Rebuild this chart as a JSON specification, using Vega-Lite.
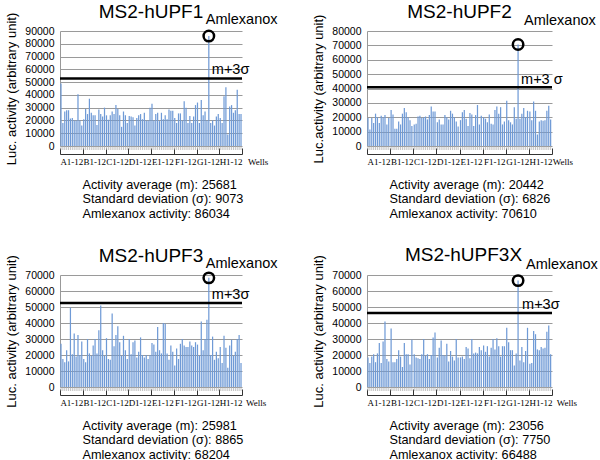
{
"$schema": "https://vega.github.io/schema/vega-lite/v6.json",
"padding": {"left": 5, "top": 2, "right": 0, "bottom": 0},
"datasets": {
"p1": [
{"g":"A1-12","w":1,"v":49000},{"g":"A1-12","w":2,"v":18000},{"g":"A1-12","w":3,"v":27000},{"g":"A1-12","w":4,"v":28000},{"g":"A1-12","w":5,"v":28000},{"g":"A1-12","w":6,"v":21500},{"g":"A1-12","w":7,"v":22000},{"g":"A1-12","w":8,"v":20000},{"g":"A1-12","w":9,"v":20000},{"g":"A1-12","w":10,"v":40500},{"g":"A1-12","w":11,"v":20000},{"g":"A1-12","w":12,"v":16000},
{"g":"B1-12","w":1,"v":21000},{"g":"B1-12","w":2,"v":29000},{"g":"B1-12","w":3,"v":25000},{"g":"B1-12","w":4,"v":37000},{"g":"B1-12","w":5,"v":26000},{"g":"B1-12","w":6,"v":24000},{"g":"B1-12","w":7,"v":24000},{"g":"B1-12","w":8,"v":16500},{"g":"B1-12","w":9,"v":28500},{"g":"B1-12","w":10,"v":25000},{"g":"B1-12","w":11,"v":23000},{"g":"B1-12","w":12,"v":30000},
{"g":"C1-12","w":1,"v":24000},{"g":"C1-12","w":2,"v":20500},{"g":"C1-12","w":3,"v":24000},{"g":"C1-12","w":4,"v":27000},{"g":"C1-12","w":5,"v":25000},{"g":"C1-12","w":6,"v":32000},{"g":"C1-12","w":7,"v":29000},{"g":"C1-12","w":8,"v":24000},{"g":"C1-12","w":9,"v":15000},{"g":"C1-12","w":10,"v":27000},{"g":"C1-12","w":11,"v":24000},{"g":"C1-12","w":12,"v":18000},
{"g":"D1-12","w":1,"v":23500},{"g":"D1-12","w":2,"v":23000},{"g":"D1-12","w":3,"v":22500},{"g":"D1-12","w":4,"v":16000},{"g":"D1-12","w":5,"v":22000},{"g":"D1-12","w":6,"v":24000},{"g":"D1-12","w":7,"v":25000},{"g":"D1-12","w":8,"v":21000},{"g":"D1-12","w":9,"v":26000},{"g":"D1-12","w":10,"v":20000},{"g":"D1-12","w":11,"v":20000},{"g":"D1-12","w":12,"v":30000},
{"g":"E1-12","w":1,"v":33000},{"g":"E1-12","w":2,"v":20000},{"g":"E1-12","w":3,"v":25000},{"g":"E1-12","w":4,"v":26000},{"g":"E1-12","w":5,"v":19500},{"g":"E1-12","w":6,"v":26000},{"g":"E1-12","w":7,"v":21000},{"g":"E1-12","w":8,"v":24000},{"g":"E1-12","w":9,"v":21000},{"g":"E1-12","w":10,"v":28500},{"g":"E1-12","w":11,"v":27500},{"g":"E1-12","w":12,"v":27500},
{"g":"F1-12","w":1,"v":22000},{"g":"F1-12","w":2,"v":18000},{"g":"F1-12","w":3,"v":25500},{"g":"F1-12","w":4,"v":25500},{"g":"F1-12","w":5,"v":20000},{"g":"F1-12","w":6,"v":35000},{"g":"F1-12","w":7,"v":30000},{"g":"F1-12","w":8,"v":18000},{"g":"F1-12","w":9,"v":23500},{"g":"F1-12","w":10,"v":18000},{"g":"F1-12","w":11,"v":23000},{"g":"F1-12","w":12,"v":32000},
{"g":"G1-12","w":1,"v":34000},{"g":"G1-12","w":2,"v":18000},{"g":"G1-12","w":3,"v":36000},{"g":"G1-12","w":4,"v":24000},{"g":"G1-12","w":5,"v":27000},{"g":"G1-12","w":6,"v":20000},{"g":"G1-12","w":7,"v":86034},{"g":"G1-12","w":8,"v":18000},{"g":"G1-12","w":9,"v":20000},{"g":"G1-12","w":10,"v":16000},{"g":"G1-12","w":11,"v":23000},{"g":"G1-12","w":12,"v":25000},
{"g":"H1-12","w":1,"v":22000},{"g":"H1-12","w":2,"v":18000},{"g":"H1-12","w":3,"v":39000},{"g":"H1-12","w":4,"v":46000},{"g":"H1-12","w":5,"v":9000},{"g":"H1-12","w":6,"v":31000},{"g":"H1-12","w":7,"v":32000},{"g":"H1-12","w":8,"v":26000},{"g":"H1-12","w":9,"v":28000},{"g":"H1-12","w":10,"v":44000},{"g":"H1-12","w":11,"v":25000},{"g":"H1-12","w":12,"v":25000}
],
"p2": [
{"g":"A1-12","w":1,"v":19500},{"g":"A1-12","w":2,"v":11500},{"g":"A1-12","w":3,"v":19500},{"g":"A1-12","w":4,"v":16000},{"g":"A1-12","w":5,"v":22500},{"g":"A1-12","w":6,"v":20000},{"g":"A1-12","w":7,"v":16000},{"g":"A1-12","w":8,"v":21000},{"g":"A1-12","w":9,"v":20000},{"g":"A1-12","w":10,"v":21500},{"g":"A1-12","w":11,"v":15000},{"g":"A1-12","w":12,"v":19500},
{"g":"B1-12","w":1,"v":25000},{"g":"B1-12","w":2,"v":22000},{"g":"B1-12","w":3,"v":12000},{"g":"B1-12","w":4,"v":12000},{"g":"B1-12","w":5,"v":17000},{"g":"B1-12","w":6,"v":15000},{"g":"B1-12","w":7,"v":22500},{"g":"B1-12","w":8,"v":26500},{"g":"B1-12","w":9,"v":23500},{"g":"B1-12","w":10,"v":20000},{"g":"B1-12","w":11,"v":18000},{"g":"B1-12","w":12,"v":14000},
{"g":"C1-12","w":1,"v":15000},{"g":"C1-12","w":2,"v":15500},{"g":"C1-12","w":3,"v":20500},{"g":"C1-12","w":4,"v":21000},{"g":"C1-12","w":5,"v":19500},{"g":"C1-12","w":6,"v":20000},{"g":"C1-12","w":7,"v":20500},{"g":"C1-12","w":8,"v":18500},{"g":"C1-12","w":9,"v":21500},{"g":"C1-12","w":10,"v":27500},{"g":"C1-12","w":11,"v":24000},{"g":"C1-12","w":12,"v":24000},
{"g":"D1-12","w":1,"v":16500},{"g":"D1-12","w":2,"v":18500},{"g":"D1-12","w":3,"v":15000},{"g":"D1-12","w":4,"v":15000},{"g":"D1-12","w":5,"v":21500},{"g":"D1-12","w":6,"v":20000},{"g":"D1-12","w":7,"v":18500},{"g":"D1-12","w":8,"v":24500},{"g":"D1-12","w":9,"v":22500},{"g":"D1-12","w":10,"v":20000},{"g":"D1-12","w":11,"v":17000},{"g":"D1-12","w":12,"v":13500},
{"g":"E1-12","w":1,"v":18000},{"g":"E1-12","w":2,"v":23500},{"g":"E1-12","w":3,"v":25000},{"g":"E1-12","w":4,"v":19000},{"g":"E1-12","w":5,"v":14000},{"g":"E1-12","w":6,"v":23000},{"g":"E1-12","w":7,"v":22000},{"g":"E1-12","w":8,"v":14000},{"g":"E1-12","w":9,"v":21500},{"g":"E1-12","w":10,"v":28500},{"g":"E1-12","w":11,"v":15000},{"g":"E1-12","w":12,"v":21000},
{"g":"F1-12","w":1,"v":20000},{"g":"F1-12","w":2,"v":19000},{"g":"F1-12","w":3,"v":16500},{"g":"F1-12","w":4,"v":22000},{"g":"F1-12","w":5,"v":15500},{"g":"F1-12","w":6,"v":15000},{"g":"F1-12","w":7,"v":25000},{"g":"F1-12","w":8,"v":27500},{"g":"F1-12","w":9,"v":22500},{"g":"F1-12","w":10,"v":27000},{"g":"F1-12","w":11,"v":15000},{"g":"F1-12","w":12,"v":17000},
{"g":"G1-12","w":1,"v":31500},{"g":"G1-12","w":2,"v":18000},{"g":"G1-12","w":3,"v":16500},{"g":"G1-12","w":4,"v":15000},{"g":"G1-12","w":5,"v":27000},{"g":"G1-12","w":6,"v":19000},{"g":"G1-12","w":7,"v":70610},{"g":"G1-12","w":8,"v":19000},{"g":"G1-12","w":9,"v":22500},{"g":"G1-12","w":10,"v":26500},{"g":"G1-12","w":11,"v":20000},{"g":"G1-12","w":12,"v":24500},
{"g":"H1-12","w":1,"v":24000},{"g":"H1-12","w":2,"v":18000},{"g":"H1-12","w":3,"v":31000},{"g":"H1-12","w":4,"v":24500},{"g":"H1-12","w":5,"v":8000},{"g":"H1-12","w":6,"v":17000},{"g":"H1-12","w":7,"v":18000},{"g":"H1-12","w":8,"v":17500},{"g":"H1-12","w":9,"v":18000},{"g":"H1-12","w":10,"v":24500},{"g":"H1-12","w":11,"v":28000},{"g":"H1-12","w":12,"v":18500}
],
"p3": [
{"g":"A1-12","w":1,"v":27000},{"g":"A1-12","w":2,"v":17500},{"g":"A1-12","w":3,"v":15500},{"g":"A1-12","w":4,"v":23000},{"g":"A1-12","w":5,"v":16000},{"g":"A1-12","w":6,"v":49500},{"g":"A1-12","w":7,"v":20500},{"g":"A1-12","w":8,"v":33500},{"g":"A1-12","w":9,"v":19000},{"g":"A1-12","w":10,"v":32500},{"g":"A1-12","w":11,"v":20000},{"g":"A1-12","w":12,"v":28500},
{"g":"B1-12","w":1,"v":17500},{"g":"B1-12","w":2,"v":15500},{"g":"B1-12","w":3,"v":30000},{"g":"B1-12","w":4,"v":21000},{"g":"B1-12","w":5,"v":19500},{"g":"B1-12","w":6,"v":26000},{"g":"B1-12","w":7,"v":30000},{"g":"B1-12","w":8,"v":21000},{"g":"B1-12","w":9,"v":35500},{"g":"B1-12","w":10,"v":51000},{"g":"B1-12","w":11,"v":23000},{"g":"B1-12","w":12,"v":19500},
{"g":"C1-12","w":1,"v":30500},{"g":"C1-12","w":2,"v":17500},{"g":"C1-12","w":3,"v":17000},{"g":"C1-12","w":4,"v":46000},{"g":"C1-12","w":5,"v":25500},{"g":"C1-12","w":6,"v":32500},{"g":"C1-12","w":7,"v":38000},{"g":"C1-12","w":8,"v":28000},{"g":"C1-12","w":9,"v":19500},{"g":"C1-12","w":10,"v":32000},{"g":"C1-12","w":11,"v":23000},{"g":"C1-12","w":12,"v":17500},
{"g":"D1-12","w":1,"v":30000},{"g":"D1-12","w":2,"v":20500},{"g":"D1-12","w":3,"v":28000},{"g":"D1-12","w":4,"v":29000},{"g":"D1-12","w":5,"v":18500},{"g":"D1-12","w":6,"v":22000},{"g":"D1-12","w":7,"v":31000},{"g":"D1-12","w":8,"v":20000},{"g":"D1-12","w":9,"v":18500},{"g":"D1-12","w":10,"v":20000},{"g":"D1-12","w":11,"v":17500},{"g":"D1-12","w":12,"v":20000},
{"g":"E1-12","w":1,"v":27500},{"g":"E1-12","w":2,"v":26500},{"g":"E1-12","w":3,"v":22000},{"g":"E1-12","w":4,"v":37500},{"g":"E1-12","w":5,"v":23000},{"g":"E1-12","w":6,"v":21000},{"g":"E1-12","w":7,"v":40000},{"g":"E1-12","w":8,"v":39500},{"g":"E1-12","w":9,"v":21000},{"g":"E1-12","w":10,"v":17000},{"g":"E1-12","w":11,"v":26000},{"g":"E1-12","w":12,"v":22000},
{"g":"F1-12","w":1,"v":13500},{"g":"F1-12","w":2,"v":24000},{"g":"F1-12","w":3,"v":17500},{"g":"F1-12","w":4,"v":27000},{"g":"F1-12","w":5,"v":30000},{"g":"F1-12","w":6,"v":26000},{"g":"F1-12","w":7,"v":25000},{"g":"F1-12","w":8,"v":25000},{"g":"F1-12","w":9,"v":28500},{"g":"F1-12","w":10,"v":26000},{"g":"F1-12","w":11,"v":25000},{"g":"F1-12","w":12,"v":28000},
{"g":"G1-12","w":1,"v":26500},{"g":"G1-12","w":2,"v":19500},{"g":"G1-12","w":3,"v":41000},{"g":"G1-12","w":4,"v":23000},{"g":"G1-12","w":5,"v":30000},{"g":"G1-12","w":6,"v":42000},{"g":"G1-12","w":7,"v":68204},{"g":"G1-12","w":8,"v":20000},{"g":"G1-12","w":9,"v":31500},{"g":"G1-12","w":10,"v":17000},{"g":"G1-12","w":11,"v":22000},{"g":"G1-12","w":12,"v":18000},
{"g":"H1-12","w":1,"v":25000},{"g":"H1-12","w":2,"v":15000},{"g":"H1-12","w":3,"v":32000},{"g":"H1-12","w":4,"v":24500},{"g":"H1-12","w":5,"v":12000},{"g":"H1-12","w":6,"v":26000},{"g":"H1-12","w":7,"v":29500},{"g":"H1-12","w":8,"v":19500},{"g":"H1-12","w":9,"v":22000},{"g":"H1-12","w":10,"v":30000},{"g":"H1-12","w":11,"v":32500},{"g":"H1-12","w":12,"v":15000}
],
"p4": [
{"g":"A1-12","w":1,"v":18500},{"g":"A1-12","w":2,"v":15000},{"g":"A1-12","w":3,"v":19000},{"g":"A1-12","w":4,"v":20500},{"g":"A1-12","w":5,"v":15500},{"g":"A1-12","w":6,"v":21000},{"g":"A1-12","w":7,"v":27500},{"g":"A1-12","w":8,"v":15000},{"g":"A1-12","w":9,"v":28500},{"g":"A1-12","w":10,"v":41000},{"g":"A1-12","w":11,"v":17500},{"g":"A1-12","w":12,"v":16000},
{"g":"B1-12","w":1,"v":36500},{"g":"B1-12","w":2,"v":15500},{"g":"B1-12","w":3,"v":15500},{"g":"B1-12","w":4,"v":17500},{"g":"B1-12","w":5,"v":23000},{"g":"B1-12","w":6,"v":19000},{"g":"B1-12","w":7,"v":12500},{"g":"B1-12","w":8,"v":27500},{"g":"B1-12","w":9,"v":20500},{"g":"B1-12","w":10,"v":20500},{"g":"B1-12","w":11,"v":14000},{"g":"B1-12","w":12,"v":29500},
{"g":"C1-12","w":1,"v":20500},{"g":"C1-12","w":2,"v":18500},{"g":"C1-12","w":3,"v":18000},{"g":"C1-12","w":4,"v":17500},{"g":"C1-12","w":5,"v":20500},{"g":"C1-12","w":6,"v":30000},{"g":"C1-12","w":7,"v":19500},{"g":"C1-12","w":8,"v":20500},{"g":"C1-12","w":9,"v":17500},{"g":"C1-12","w":10,"v":20000},{"g":"C1-12","w":11,"v":31000},{"g":"C1-12","w":12,"v":34000},
{"g":"D1-12","w":1,"v":18500},{"g":"D1-12","w":2,"v":24500},{"g":"D1-12","w":3,"v":29000},{"g":"D1-12","w":4,"v":20000},{"g":"D1-12","w":5,"v":19500},{"g":"D1-12","w":6,"v":27000},{"g":"D1-12","w":7,"v":16000},{"g":"D1-12","w":8,"v":22500},{"g":"D1-12","w":9,"v":19000},{"g":"D1-12","w":10,"v":16500},{"g":"D1-12","w":11,"v":30000},{"g":"D1-12","w":12,"v":18500},
{"g":"E1-12","w":1,"v":18500},{"g":"E1-12","w":2,"v":19000},{"g":"E1-12","w":3,"v":17500},{"g":"E1-12","w":4,"v":25000},{"g":"E1-12","w":5,"v":24000},{"g":"E1-12","w":6,"v":18000},{"g":"E1-12","w":7,"v":30000},{"g":"E1-12","w":8,"v":21000},{"g":"E1-12","w":9,"v":21500},{"g":"E1-12","w":10,"v":21000},{"g":"E1-12","w":11,"v":25000},{"g":"E1-12","w":12,"v":23000},
{"g":"F1-12","w":1,"v":26000},{"g":"F1-12","w":2,"v":22000},{"g":"F1-12","w":3,"v":25500},{"g":"F1-12","w":4,"v":19000},{"g":"F1-12","w":5,"v":24500},{"g":"F1-12","w":6,"v":30000},{"g":"F1-12","w":7,"v":23500},{"g":"F1-12","w":8,"v":30500},{"g":"F1-12","w":9,"v":25500},{"g":"F1-12","w":10,"v":19000},{"g":"F1-12","w":11,"v":25500},{"g":"F1-12","w":12,"v":25500},
{"g":"G1-12","w":1,"v":37000},{"g":"G1-12","w":2,"v":28000},{"g":"G1-12","w":3,"v":23000},{"g":"G1-12","w":4,"v":23000},{"g":"G1-12","w":5,"v":13500},{"g":"G1-12","w":6,"v":21000},{"g":"G1-12","w":7,"v":66488},{"g":"G1-12","w":8,"v":16500},{"g":"G1-12","w":9,"v":25000},{"g":"G1-12","w":10,"v":15500},{"g":"G1-12","w":11,"v":22500},{"g":"G1-12","w":12,"v":37000},
{"g":"H1-12","w":1,"v":14500},{"g":"H1-12","w":2,"v":15000},{"g":"H1-12","w":3,"v":35000},{"g":"H1-12","w":4,"v":33000},{"g":"H1-12","w":5,"v":23500},{"g":"H1-12","w":6,"v":23000},{"g":"H1-12","w":7,"v":25000},{"g":"H1-12","w":8,"v":24000},{"g":"H1-12","w":9,"v":24500},{"g":"H1-12","w":10,"v":34500},{"g":"H1-12","w":11,"v":38500},{"g":"H1-12","w":12,"v":20500}
],
"s1": [{"g":"G1-12","w":7,"m":25681,"sd":9073,"amx":86034,"thr":52900}],
"s2": [{"g":"G1-12","w":7,"m":20442,"sd":6826,"amx":70610,"thr":40920}],
"s3": [{"g":"G1-12","w":7,"m":25981,"sd":8865,"amx":68204,"thr":52576}],
"s4": [{"g":"G1-12","w":7,"m":23056,"sd":7750,"amx":66488,"thr":46306}]
},
"columns": 2,
"align": "each",
"bounds": "flush",
"spacing": {"row": 129, "column": 125},
"concat": [
{
"width": 182, "height": 115,
"title": {"text": "MS2-hUPF1", "offset": -9.5},
"layer": [
{"data": {"name": "p1"}, "mark": {"type": "bar", "color": "#6f9ad6"},
 "encoding": {
  "x": {"field": "g", "type": "nominal", "scale": {"paddingInner": 0, "paddingOuter": 0}, "axis": {"title": ["Activity average (m): 25681", "Standard deviation (σ): 9073", "Amlexanox activity: 86034"]}},
  "xOffset": {"field": "w", "type": "ordinal", "scale": {"paddingInner": 0.35, "paddingOuter": 0.2}},
  "y": {"field": "v", "type": "quantitative", "scale": {"domain": [0, 90000], "nice": false}, "axis": {"title": "Luc. activity (arbitrary unit)"}}}},
{"data": {"name": "p1"}, "mark": {"type": "tick", "color": "#aaaaaa", "orient": "vertical", "size": 4, "thickness": 1, "yOffset": 2},
 "encoding": {"x": {"field": "g", "type": "nominal"}, "xOffset": {"field": "w", "type": "ordinal"}, "y": {"datum": 0, "type": "quantitative"}}},
{"data": {"name": "s1"}, "mark": {"type": "rule", "color": "black", "strokeWidth": 2.5},
 "encoding": {"y": {"field": "thr", "type": "quantitative"}}},
{"data": {"name": "s1"}, "mark": {"type": "point", "shape": "circle", "filled": false, "stroke": "black", "strokeWidth": 2.5, "size": 110, "opacity": 1},
 "encoding": {"x": {"field": "g", "type": "nominal"}, "xOffset": {"field": "w", "type": "ordinal"}, "y": {"field": "amx", "type": "quantitative"}}},
{"data": {"name": "s1"}, "mark": {"type": "text", "text": "Amlexanox", "align": "left", "baseline": "middle", "dx": -3, "dy": -16},
 "encoding": {"x": {"field": "g", "type": "nominal"}, "xOffset": {"field": "w", "type": "ordinal"}, "y": {"field": "amx", "type": "quantitative"}}},
{"data": {"name": "s1"}, "mark": {"type": "text", "text": "m+3σ", "align": "left", "baseline": "middle", "dx": 3, "dy": -8},
 "encoding": {"x": {"field": "g", "type": "nominal"}, "xOffset": {"field": "w", "type": "ordinal"}, "y": {"field": "thr", "type": "quantitative"}}},
{"data": {"name": "p1"}, "transform": [{"filter": "datum.g == 'H1-12' && datum.w == 12"}], "mark": {"type": "text", "text": "Wells", "align": "left", "baseline": "middle", "dx": 7, "dy": 16, "font": "Liberation Serif", "fontSize": 9},
 "encoding": {"x": {"field": "g", "type": "nominal"}, "xOffset": {"field": "w", "type": "ordinal"}, "y": {"datum": 0, "type": "quantitative"}}}
]
},
{
"width": 185, "height": 115,
"title": {"text": "MS2-hUPF2", "offset": -8.5},
"layer": [
{"data": {"name": "p2"}, "mark": {"type": "bar", "color": "#6f9ad6"},
 "encoding": {
  "x": {"field": "g", "type": "nominal", "scale": {"paddingInner": 0, "paddingOuter": 0}, "axis": {"title": ["Activity average (m): 20442", "Standard deviation (σ): 6826", "Amlexanox activity: 70610"]}},
  "xOffset": {"field": "w", "type": "ordinal", "scale": {"paddingInner": 0.35, "paddingOuter": 0.2}},
  "y": {"field": "v", "type": "quantitative", "scale": {"domain": [0, 80000], "nice": false}, "axis": {"title": "Luc.activity (arbitrary unit)"}}}},
{"data": {"name": "p2"}, "mark": {"type": "tick", "color": "#aaaaaa", "orient": "vertical", "size": 4, "thickness": 1, "yOffset": 2},
 "encoding": {"x": {"field": "g", "type": "nominal"}, "xOffset": {"field": "w", "type": "ordinal"}, "y": {"datum": 0, "type": "quantitative"}}},
{"data": {"name": "s2"}, "mark": {"type": "rule", "color": "black", "strokeWidth": 2.5},
 "encoding": {"y": {"field": "thr", "type": "quantitative"}}},
{"data": {"name": "s2"}, "mark": {"type": "point", "shape": "circle", "filled": false, "stroke": "black", "strokeWidth": 2.5, "size": 110, "opacity": 1},
 "encoding": {"x": {"field": "g", "type": "nominal"}, "xOffset": {"field": "w", "type": "ordinal"}, "y": {"field": "amx", "type": "quantitative"}}},
{"data": {"name": "s2"}, "mark": {"type": "text", "text": "Amlexanox", "align": "left", "baseline": "middle", "dx": 6, "dy": -23},
 "encoding": {"x": {"field": "g", "type": "nominal"}, "xOffset": {"field": "w", "type": "ordinal"}, "y": {"field": "amx", "type": "quantitative"}}},
{"data": {"name": "s2"}, "mark": {"type": "text", "text": "m+3 σ", "align": "left", "baseline": "middle", "dx": 3, "dy": -7},
 "encoding": {"x": {"field": "g", "type": "nominal"}, "xOffset": {"field": "w", "type": "ordinal"}, "y": {"field": "thr", "type": "quantitative"}}},
{"data": {"name": "p2"}, "transform": [{"filter": "datum.g == 'H1-12' && datum.w == 12"}], "mark": {"type": "text", "text": "Wells", "align": "left", "baseline": "middle", "dx": 2, "dy": 16, "font": "Liberation Serif", "fontSize": 9},
 "encoding": {"x": {"field": "g", "type": "nominal"}, "xOffset": {"field": "w", "type": "ordinal"}, "y": {"datum": 0, "type": "quantitative"}}}
]
},
{
"width": 182, "height": 112,
"title": {"text": "MS2-hUPF3", "offset": -11.3},
"layer": [
{"data": {"name": "p3"}, "mark": {"type": "bar", "color": "#6f9ad6"},
 "encoding": {
  "x": {"field": "g", "type": "nominal", "scale": {"paddingInner": 0, "paddingOuter": 0}, "axis": {"title": ["Activity average (m): 25981", "Standard deviation (σ): 8865", "Amlexanox activity: 68204"]}},
  "xOffset": {"field": "w", "type": "ordinal", "scale": {"paddingInner": 0.35, "paddingOuter": 0.2}},
  "y": {"field": "v", "type": "quantitative", "scale": {"domain": [0, 70000], "nice": false}, "axis": {"title": "Luc. activity (arbitrary unit)"}}}},
{"data": {"name": "p3"}, "mark": {"type": "tick", "color": "#aaaaaa", "orient": "vertical", "size": 4, "thickness": 1, "yOffset": 2},
 "encoding": {"x": {"field": "g", "type": "nominal"}, "xOffset": {"field": "w", "type": "ordinal"}, "y": {"datum": 0, "type": "quantitative"}}},
{"data": {"name": "s3"}, "mark": {"type": "rule", "color": "black", "strokeWidth": 2.5},
 "encoding": {"y": {"field": "thr", "type": "quantitative"}}},
{"data": {"name": "s3"}, "mark": {"type": "point", "shape": "circle", "filled": false, "stroke": "black", "strokeWidth": 2.5, "size": 110, "opacity": 1},
 "encoding": {"x": {"field": "g", "type": "nominal"}, "xOffset": {"field": "w", "type": "ordinal"}, "y": {"field": "amx", "type": "quantitative"}}},
{"data": {"name": "s3"}, "mark": {"type": "text", "text": "Amlexanox", "align": "left", "baseline": "middle", "dx": -3, "dy": -14},
 "encoding": {"x": {"field": "g", "type": "nominal"}, "xOffset": {"field": "w", "type": "ordinal"}, "y": {"field": "amx", "type": "quantitative"}}},
{"data": {"name": "s3"}, "mark": {"type": "text", "text": "m+3σ", "align": "left", "baseline": "middle", "dx": 3, "dy": -8},
 "encoding": {"x": {"field": "g", "type": "nominal"}, "xOffset": {"field": "w", "type": "ordinal"}, "y": {"field": "thr", "type": "quantitative"}}},
{"data": {"name": "p3"}, "transform": [{"filter": "datum.g == 'H1-12' && datum.w == 12"}], "mark": {"type": "text", "text": "Wells", "align": "left", "baseline": "middle", "dx": 5, "dy": 16, "font": "Liberation Serif", "fontSize": 9},
 "encoding": {"x": {"field": "g", "type": "nominal"}, "xOffset": {"field": "w", "type": "ordinal"}, "y": {"datum": 0, "type": "quantitative"}}}
]
},
{
"width": 185, "height": 112,
"title": {"text": "MS2-hUPF3X", "offset": -10.6, "dx": 4},
"layer": [
{"data": {"name": "p4"}, "mark": {"type": "bar", "color": "#6f9ad6"},
 "encoding": {
  "x": {"field": "g", "type": "nominal", "scale": {"paddingInner": 0, "paddingOuter": 0}, "axis": {"title": ["Activity average (m): 23056", "Standard deviation (σ): 7750", "Amlexanox activity: 66488"]}},
  "xOffset": {"field": "w", "type": "ordinal", "scale": {"paddingInner": 0.35, "paddingOuter": 0.2}},
  "y": {"field": "v", "type": "quantitative", "scale": {"domain": [0, 70000], "nice": false}, "axis": {"title": "Luc. activity (arbitrary unit)"}}}},
{"data": {"name": "p4"}, "mark": {"type": "tick", "color": "#aaaaaa", "orient": "vertical", "size": 4, "thickness": 1, "yOffset": 2},
 "encoding": {"x": {"field": "g", "type": "nominal"}, "xOffset": {"field": "w", "type": "ordinal"}, "y": {"datum": 0, "type": "quantitative"}}},
{"data": {"name": "s4"}, "mark": {"type": "rule", "color": "black", "strokeWidth": 2.5},
 "encoding": {"y": {"field": "thr", "type": "quantitative"}}},
{"data": {"name": "s4"}, "mark": {"type": "point", "shape": "circle", "filled": false, "stroke": "black", "strokeWidth": 2.5, "size": 110, "opacity": 1},
 "encoding": {"x": {"field": "g", "type": "nominal"}, "xOffset": {"field": "w", "type": "ordinal"}, "y": {"field": "amx", "type": "quantitative"}}},
{"data": {"name": "s4"}, "mark": {"type": "text", "text": "Amlexanox", "align": "left", "baseline": "middle", "dx": 8, "dy": -16},
 "encoding": {"x": {"field": "g", "type": "nominal"}, "xOffset": {"field": "w", "type": "ordinal"}, "y": {"field": "amx", "type": "quantitative"}}},
{"data": {"name": "s4"}, "mark": {"type": "text", "text": "m+3σ", "align": "left", "baseline": "middle", "dx": 4, "dy": -8},
 "encoding": {"x": {"field": "g", "type": "nominal"}, "xOffset": {"field": "w", "type": "ordinal"}, "y": {"field": "thr", "type": "quantitative"}}},
{"data": {"name": "p4"}, "transform": [{"filter": "datum.g == 'H1-12' && datum.w == 12"}], "mark": {"type": "text", "text": "Wells", "align": "left", "baseline": "middle", "dx": 6, "dy": 16, "font": "Liberation Serif", "fontSize": 9},
 "encoding": {"x": {"field": "g", "type": "nominal"}, "xOffset": {"field": "w", "type": "ordinal"}, "y": {"datum": 0, "type": "quantitative"}}}
]
}
],
"config": {
 "font": "Liberation Sans",
 "view": {"stroke": null},
 "title": {"fontSize": 19, "fontWeight": "normal", "font": "Liberation Sans", "frame": "group", "anchor": "middle", "color": "black"},
 "text": {"font": "Liberation Sans", "fontSize": 14.5, "color": "black"},
 "axis": {"labelColor": "black", "titleColor": "black", "titleFontWeight": "normal", "labelFont": "Liberation Sans", "titleFont": "Liberation Sans"},
 "axisY": {"format": "d", "tickCount": 9, "labelOverlap": false, "grid": true, "gridColor": "#9a9a9a", "gridWidth": 1, "ticks": false, "domain": true, "domainColor": "#999999", "labelFontSize": 10.5, "labelPadding": 6, "titleFontSize": 13, "titlePadding": 6},
 "axisX": {"grid": false, "labelAngle": 0, "tickBand": "extent", "tickSize": -6, "tickColor": "#333333", "domainColor": "#333333", "offset": 8, "labelFont": "Liberation Serif", "labelFontSize": 9, "labelPadding": 9.5, "labelOverlap": false, "titleFontSize": 12.7, "titleAlign": "left", "titleAnchor": "start", "titleX": 22, "titleY": 24, "titleBaseline": "top", "titleLineHeight": 14.5}
}
}
